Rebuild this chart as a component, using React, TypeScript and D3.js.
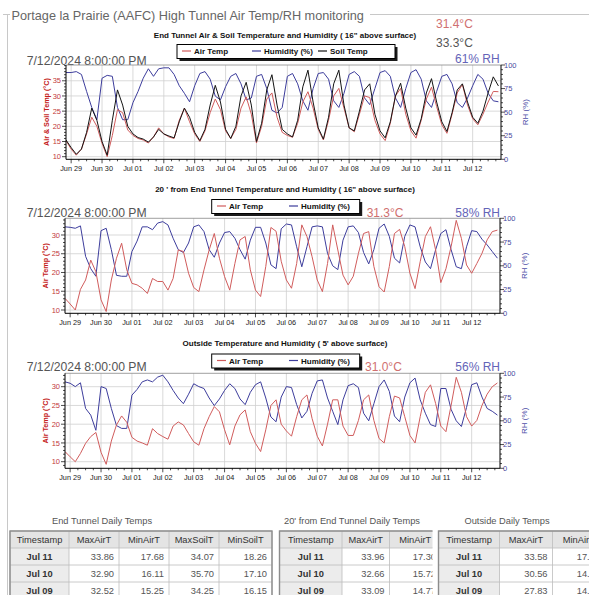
import React from 'react';
import * as d3 from 'd3';

// ---------- time base (4-hourly samples, Jun 28 20:00 -> Jul 12 20:00) ----------
const START = Date.UTC(2024, 5, 28, 20);
const DOMAIN_END = Date.UTC(2024, 6, 12, 22);
const STEP_H = 4;

// ---------- End Tunnel (16" above surface) ----------
const endAir = [
  15.3, 12.5, 10.5, 12.5, 17.5, 23, 20,
  14.4, 10, 17, 25.5, 24.5, 18.8,
  17, 16, 15.5, 14.5, 16.5, 19.5,
  17.5, 16.5, 16, 22, 26, 21.5,
  17.5, 15, 18.5, 24.5, 29, 25.5,
  18.5, 16, 19, 26, 29.7, 24,
  14.5, 20, 29, 31, 23, 18,
  17, 16.4, 21, 28, 31.4, 26,
  19, 15.5, 22, 30, 32.5, 26,
  19.5, 18.2, 24, 30, 29.5, 22,
  17.5, 15.3, 21, 30, 32.5, 24,
  18.5, 16.1, 22, 29, 32.9, 26.5,
  20.5, 17.7, 24, 31, 33.8, 27,
  22.5, 20.5, 24, 28, 31.5, 31.4,
];
const endSoil = [
  15.5, 13, 10.8, 12.5, 18, 26, 22,
  15, 10.5, 22, 32, 27, 20,
  17.5, 16.3, 15.8, 14.8, 16.5, 19,
  17.5, 16.8, 16.2, 21.5, 26, 23,
  18, 15.3, 19, 27, 33.5, 28,
  19, 16, 20, 30, 34.5, 27,
  15, 21, 32, 37, 27, 19,
  17.5, 16.5, 22, 33, 38.5, 28,
  19.5, 15.8, 23, 34, 38.5, 27,
  19.5, 18.5, 25, 32, 34, 24,
  18.5, 16.2, 21.5, 30, 34.2, 26,
  19.5, 17.1, 22.5, 31, 35.7, 28,
  21.5, 18.3, 24.5, 32, 34, 28,
  23, 21, 25, 31, 36.3, 33.3,
];
const endRH = [
  92, 92, 93, 90, 72, 55, 42,
  86, 89, 88, 55, 42, 42,
  60, 72, 86, 96, 88, 96,
  97, 97, 90, 78, 70, 61,
  78, 91, 93, 85, 67, 63,
  77, 88, 91, 80, 63, 65,
  88, 90, 75, 52, 49, 55,
  88, 91, 80, 62, 52, 75,
  91, 92, 85, 62, 55, 70,
  90, 93, 88, 65, 58, 75,
  92, 94, 88, 65, 55, 75,
  92, 95, 85, 62, 55, 72,
  88, 90, 80, 60, 55, 65,
  78, 90, 85, 70, 62, 61,
];

// ---------- 20' from End Tunnel ----------
const midAir = [
  13.1, 11.6, 10, 15.5, 18, 23.3, 20.2,
  12.7, 9.6, 18, 23.8, 27.8, 20.7,
  17.1, 16.7, 15.8, 14.4, 18.4, 17.6,
  17.6, 15.3, 18.4, 26, 25.6, 19.8,
  16, 14.9, 20.7, 26, 30.4, 23.8,
  18.9, 15.3, 22.4, 28.7, 29.6, 20.7,
  15.3, 13.6, 21.6, 32, 31, 23,
  18, 15.8, 22.4, 32.7, 29.6, 24.2,
  18, 14.9, 22.4, 32.7, 26, 19.3,
  16.7, 19, 25.1, 30.4, 30.9, 21.6,
  16.2, 14.8, 21.6, 30.4, 31.5, 26.9,
  19.8, 15.7, 22.9, 29.6, 32.2, 26,
  17.3, 21, 26.9, 33.9, 29.1, 22,
  19.8, 22.4, 25.1, 28.7, 30.9, 31.3,
];
const midRH = [
  91, 90.5, 89.5, 92, 60, 47, 39,
  87, 89.5, 67, 40, 39, 39,
  65, 76, 91, 91, 88, 95,
  96.5, 93, 79, 67, 64, 74,
  91, 93, 86, 67, 59, 74,
  85, 86, 79, 67, 57, 77,
  90.5, 90.5, 74, 51, 47, 89,
  94, 93, 70, 49, 70, 91,
  92, 91, 63, 50, 46, 77,
  91, 92, 85, 64, 52, 67,
  89.5, 94, 81, 58, 53, 81,
  93, 91, 70, 54, 47, 67,
  84, 88, 67, 49, 47, 70,
  87, 86, 78, 72, 65, 58,
];

// ---------- Outside (5' above surface) ----------
const outAir = [
  12.7, 11.3, 10, 12.2, 14.9, 16.7, 17.8,
  12.5, 9.3, 15.5, 19.8, 22.2, 20.5,
  16.5, 15.5, 15, 14.4, 18.8, 17.5,
  16.7, 16, 19.5, 20.6, 19.8, 17.5,
  15.3, 14.4, 18.8, 22, 24.7, 23.3,
  18.5, 14.5, 19.5, 22.5, 23.8, 18,
  14.9, 12.7, 18.5, 25, 26.5, 20,
  18.2, 16.8, 22, 26.5, 27.8, 21.5,
  16.8, 14.2, 20, 26.5, 26.5, 19.5,
  17, 17, 21, 26.5, 27.8, 21,
  16.2, 15, 22, 27.5, 27, 22,
  17, 15, 22, 28.5, 30.5, 25.5,
  19.5, 18, 25, 32.5, 28.5, 22,
  19.5, 21, 25, 28, 30, 31,
];
const outRH = [
  91, 89.5, 86, 90, 63, 56, 40,
  86, 84, 63, 45, 42, 42,
  77, 83, 91, 93, 91, 96,
  98, 91, 82, 74, 68, 78,
  89, 86, 84, 74, 66, 73,
  82, 89, 84, 73, 67, 80,
  88, 91, 74, 54, 49, 75,
  86, 85, 67, 53, 60, 79,
  92, 93, 74, 60, 46, 72,
  87, 89, 85, 58, 50, 68,
  86, 93, 81, 55, 49, 75,
  90, 95, 72, 58, 46, 44,
  84, 84, 62, 50, 44, 64,
  88, 90, 75, 63, 60, 56,
];

// ---------- tick values ----------
const rhTicks = [0, 25, 50, 75, 100];
const endTempTicks = [10, 15, 20, 25, 30, 35];
const tempTicks = [10, 15, 20, 25, 30];

// ---------- daily tables ----------
const tableDays = ['Jul 11', 'Jul 10', 'Jul 09'];
const endMaxAir = [33.86, 32.9, 32.52];
const endMinAir = [17.68, 16.11, 15.25];
const endMaxSoil = [34.07, 35.7, 34.25];
const endMinSoil = [18.26, 17.1, 16.15];
const midMaxAir = [33.96, 32.66, 33.09];
const midMinAir = [17.3, 15.72, 14.77];
const outMaxAir = [33.58, 30.56, 27.83];
const outMinAir = [17.75, 14.95, 14.34];

const FONT = 'Liberation Sans, Arial, Helvetica, sans-serif';
const RED = '#d05c5c';
const BLUE = '#3d3d9c';
const SOIL = '#141414';

const sampleTimes = d3.range(endAir.length).map((i) => new Date(START + i * STEP_H * 3600 * 1000));

type LineDef = { values: number[]; color: string; axis: 't' | 'rh' };

function Plot(props: {
  id: string;
  x0: number; x1: number; y0: number; y1: number;
  tDomain: [number, number]; tTicks: number[];
  lines: LineDef[]; leftTitle: string;
}) {
  const { id, x0, x1, y0, y1, tDomain, tTicks, lines, leftTitle } = props;
  const x = d3.scaleUtc().domain([new Date(START), new Date(DOMAIN_END)]).range([x0, x1]);
  const yT = d3.scaleLinear().domain(tDomain).range([y1, y0]);
  const yR = d3.scaleLinear().domain([0, 100]).range([y1, y0]);
  const days = d3.utcDay.range(new Date(START), new Date(DOMAIN_END));
  const sixH = d3.utcHour.every(6)!.range(new Date(START), new Date(DOMAIN_END));
  const minorT = d3.range(Math.ceil(tDomain[0]), Math.floor(tDomain[1]) + 1);
  const minorR = d3.range(0, 101, 5);
  const fmt = d3.utcFormat('%b %d');
  return (
    <g>
      <defs>
        <clipPath id={id}>
          <rect x={x0} y={y0} width={x1 - x0} height={y1 - y0} />
        </clipPath>
      </defs>
      <rect x={x0} y={y0} width={x1 - x0} height={y1 - y0} fill="#fff" />
      {tTicks.map((t) => (
        <line key={'gh' + t} x1={x0} x2={x1} y1={yT(t)} y2={yT(t)} stroke="#cfcfcf" strokeWidth={0.8} />
      ))}
      {days.map((d) => (
        <line key={'gv' + d.getTime()} x1={x(d)} x2={x(d)} y1={y0} y2={y1} stroke="#cfcfcf" strokeWidth={0.8} />
      ))}
      <g clipPath={`url(#${id})`}>
        {lines.map((l, k) => {
          const sc = l.axis === 't' ? yT : yR;
          const gen = d3
            .line<number>()
            .x((_, i) => x(sampleTimes[i]))
            .y((v) => sc(v));
          return <path key={k} d={gen(l.values) || ''} fill="none" stroke={l.color} strokeWidth={1} strokeLinejoin="round" />;
        })}
      </g>
      <line x1={x0} x2={x1} y1={y0} y2={y0} stroke="#888" strokeWidth={0.8} />
      <line x1={x0} x2={x0} y1={y0} y2={y1} stroke="#000" strokeWidth={1} />
      <line x1={x1} x2={x1} y1={y0} y2={y1} stroke="#000" strokeWidth={1} />
      <line x1={x0} x2={x1} y1={y1} y2={y1} stroke="#000" strokeWidth={1} />
      {minorT.map((t) => (
        <line key={'mt' + t} x1={x0 - (tTicks.includes(t) ? 4 : 2)} x2={x0} y1={yT(t)} y2={yT(t)} stroke="#000" strokeWidth={0.7} />
      ))}
      {minorR.map((r) => (
        <line key={'mr' + r} x1={x1} x2={x1 + (rhTicks.includes(r) ? 4 : 2)} y1={yR(r)} y2={yR(r)} stroke="#000" strokeWidth={0.7} />
      ))}
      {sixH.map((d) => (
        <line key={'mx' + d.getTime()} x1={x(d)} x2={x(d)} y1={y1} y2={y1 + (d.getUTCHours() === 0 ? 4 : 2)} stroke="#000" strokeWidth={0.7} />
      ))}
      {tTicks.map((t) => (
        <text key={'lt' + t} x={x0 - 5} y={yT(t) + 2.6} textAnchor="end" fontSize={7.5} fill="#c23a3a" fontFamily={FONT}>
          {t}
        </text>
      ))}
      {rhTicks.map((r) => (
        <text key={'lr' + r} x={x1 + 3} y={yR(r) + 2.6} fontSize={7.5} fill="#4a4aa0" fontFamily={FONT}>
          {r}
        </text>
      ))}
      {days.map((d) => (
        <text key={'lx' + d.getTime()} x={x(d)} y={y1 + 12} textAnchor="middle" fontSize={7.3} fill="#222" fontFamily={FONT}>
          {fmt(d)}
        </text>
      ))}
      <text
        transform={`translate(${x0 - 17},${(y0 + y1) / 2}) rotate(-90)`}
        textAnchor="middle"
        fontSize={7.2}
        fontWeight="bold"
        fill="#c42020"
        fontFamily={FONT}
      >
        {leftTitle}
      </text>
      <text
        transform={`translate(${x1 + 27},${(y0 + y1) / 2}) rotate(-90)`}
        textAnchor="middle"
        fontSize={8}
        fill="#5050a8"
        fontFamily={FONT}
      >
        RH (%)
      </text>
    </g>
  );
}

function Legend(props: { x: number; y: number; w: number; items: { label: string; color: string; at: number }[] }) {
  const { x, y, w, items } = props;
  const h = 14;
  return (
    <g>
      <rect x={x + 2.5} y={y + 2.5} width={w} height={h} fill="#1a1a1a" />
      <rect x={x} y={y} width={w} height={h} fill="#fff" stroke="#000" strokeWidth={1} />
      {items.map((it) => (
        <g key={it.label}>
          <line x1={it.at} x2={it.at + 9} y1={y + 6.5} y2={y + 6.5} stroke={it.color} strokeWidth={1.2} />
          <text x={it.at + 12} y={y + 9.6} fontSize={8} fontWeight="bold" fill="#111" fontFamily={FONT}>
            {it.label}
          </text>
        </g>
      ))}
    </g>
  );
}

function Table(props: {
  x: number; y: number; bounds: number[]; clipRight: number; id: string;
  headers: string[]; columns: string[][];
}) {
  const { x, y, bounds, clipRight, id, headers, columns } = props;
  const rh = 17;
  const nRows = columns[0].length;
  const right = bounds[bounds.length - 1];
  return (
    <g>
      <defs>
        <clipPath id={id}>
          <rect x={x - 2} y={y - 2} width={clipRight - x + 2} height={rh * (nRows + 1) + 4} />
        </clipPath>
      </defs>
      <g clipPath={`url(#${id})`}>
        <rect x={x} y={y} width={right - x} height={rh} fill="#e4e4e4" />
        <rect x={bounds[0]} y={y + rh} width={bounds[1] - bounds[0]} height={rh * nRows} fill="#ececec" />
        {d3.range(nRows + 1).map((r) => (
          <line key={'r' + r} x1={x} x2={right} y1={y + rh * r} y2={y + rh * r} stroke="#bdbdbd" strokeWidth={0.8} />
        ))}
        {bounds.map((b, i) => (
          <line key={'c' + i} x1={b} x2={b} y1={y} y2={y + rh * (nRows + 1)} stroke="#bdbdbd" strokeWidth={0.8} />
        ))}
        <rect x={x} y={y} width={right - x} height={rh * (nRows + 1)} fill="none" stroke="#8c8c8c" strokeWidth={1.4} />
        {headers.map((h, i) => (
          <text key={'h' + i} x={(bounds[i] + bounds[i + 1]) / 2} y={y + 11.8} textAnchor="middle" fontSize={9.3} fill="#333" fontFamily={FONT}>
            {h}
          </text>
        ))}
        {columns.map((col, ci) =>
          col.map((v, ri) => (
            <text
              key={ci + '-' + ri}
              x={ci === 0 ? (bounds[0] + bounds[1]) / 2 : bounds[ci + 1] - 5}
              y={y + rh * (ri + 1) + 11.8}
              textAnchor={ci === 0 ? 'middle' : 'end'}
              fontSize={9.3}
              fontWeight={ci === 0 ? 'bold' : 'normal'}
              fill={ci === 0 ? '#333' : '#555'}
              fontFamily={FONT}
            >
              {v}
            </text>
          ))
        )}
      </g>
    </g>
  );
}

const f2 = (a: number[]) => a.map((v) => v.toFixed(2));

export default function App() {
  return (
    <svg width={589} height={595} style={{ position: 'absolute', left: 0, top: 0, background: '#fff' }} fontFamily={FONT}>
      <rect x={0} y={0} width={589} height={595} fill="#fff" />
      {/* group box */}
      <path d="M3,14.5 H10 M370,14.5 H589 M7.5,14.5 V595" stroke="#c8c8c8" strokeWidth={1} fill="none" />
      <text x={11.5} y={19.5} fontSize={12.7} fill="#666">
        Portage la Prairie (AAFC) High Tunnel Air Temp/RH monitoring
      </text>

      {/* ---------- chart 1 ---------- */}
      <text x={285} y={37.5} textAnchor="middle" fontSize={8} fontWeight="bold" fill="#111">
        End Tunnel Air &amp; Soil Temperature and Humidity ( 16" above surface)
      </text>
      <text x={26.7} y={64.5} fontSize={12.2} fill="#555">7/12/2024 8:00:00 PM</text>
      <text x={436} y={28} fontSize={12} fill="#d07070">31.4°C</text>
      <text x={436} y={47} fontSize={12} fill="#555">33.3°C</text>
      <text x={455} y={63} fontSize={12} fill="#6464b8">61% RH</text>
      <Legend
        x={177}
        y={44.5}
        w={218}
        items={[
          { label: 'Air Temp', color: RED, at: 182 },
          { label: 'Humidity (%)', color: BLUE, at: 252 },
          { label: 'Soil Temp', color: SOIL, at: 318 },
        ]}
      />
      <Plot
        id="p1"
        x0={66} x1={501} y0={65} y1={159.3}
        tDomain={[9.14, 40.2]} tTicks={endTempTicks}
        leftTitle="Air & Soil Temp (°C)"
        lines={[
          { values: endRH, color: BLUE, axis: 'rh' },
          { values: endAir, color: RED, axis: 't' },
          { values: endSoil, color: SOIL, axis: 't' },
        ]}
      />

      {/* ---------- chart 2 ---------- */}
      <text x={285} y={191.5} textAnchor="middle" fontSize={8} fontWeight="bold" fill="#111">
        20 ' from End Tunnel Temperature and Humidity ( 16" above surface)
      </text>
      <text x={26.7} y={217} fontSize={12.2} fill="#555">7/12/2024 8:00:00 PM</text>
      <text x={366.7} y={216.7} fontSize={12} fill="#d07070">31.3°C</text>
      <text x={500} y={216.7} textAnchor="end" fontSize={12} fill="#6464b8">58% RH</text>
      <Legend
        x={211.7}
        y={199.5}
        w={148}
        items={[
          { label: 'Air Temp', color: RED, at: 217 },
          { label: 'Humidity (%)', color: BLUE, at: 289 },
        ]}
      />
      <Plot
        id="p2"
        x0={65} x1={500} y0={218.3} y1={313.3}
        tDomain={[9.12, 34.45]} tTicks={tempTicks}
        leftTitle="Air Temp (°C)"
        lines={[
          { values: midRH, color: BLUE, axis: 'rh' },
          { values: midAir, color: RED, axis: 't' },
        ]}
      />

      {/* ---------- chart 3 ---------- */}
      <text x={285} y={346} textAnchor="middle" fontSize={8} fontWeight="bold" fill="#111">
        Outside Temperature and Humidity ( 5' above surface)
      </text>
      <text x={26.7} y={370.5} fontSize={12.2} fill="#555">7/12/2024 8:00:00 PM</text>
      <text x={365} y={371} fontSize={12} fill="#d07070">31.0°C</text>
      <text x={500} y={371} textAnchor="end" fontSize={12} fill="#6464b8">56% RH</text>
      <Legend
        x={211.7}
        y={354}
        w={148}
        items={[
          { label: 'Air Temp', color: RED, at: 217 },
          { label: 'Humidity (%)', color: BLUE, at: 289 },
        ]}
      />
      <Plot
        id="p3"
        x0={65} x1={500} y0={373.3} y1={468.3}
        tDomain={[8.24, 33.57]} tTicks={tempTicks}
        leftTitle="Air Temp (°C)"
        lines={[
          { values: outRH, color: BLUE, axis: 'rh' },
          { values: outAir, color: RED, axis: 't' },
        ]}
      />

      {/* ---------- tables ---------- */}
      <text x={102} y={523.5} textAnchor="middle" fontSize={9.3} fill="#555">End Tunnel Daily Temps</text>
      <text x={352} y={523.5} textAnchor="middle" fontSize={9.3} fill="#555">20' from End Tunnel Daily Temps</text>
      <text x={507} y={523.5} textAnchor="middle" fontSize={9.3} fill="#555">Outside Daily Temps</text>
      <Table
        id="t1" x={10} y={531} bounds={[10, 69, 119, 169, 219, 272]} clipRight={274}
        headers={['Timestamp', 'MaxAirT', 'MinAirT', 'MaxSoilT', 'MinSoilT']}
        columns={[tableDays, f2(endMaxAir), f2(endMinAir), f2(endMaxSoil), f2(endMinSoil)]}
      />
      <Table
        id="t2" x={279.5} y={531} bounds={[279.5, 342, 389.5, 441]} clipRight={432.5}
        headers={['Timestamp', 'MaxAirT', 'MinAirT']}
        columns={[tableDays, f2(midMaxAir), f2(midMinAir)]}
      />
      <Table
        id="t3" x={438.5} y={531} bounds={[438.5, 499.5, 552.5, 605]} clipRight={589}
        headers={['Timestamp', 'MaxAirT', 'MinAirT']}
        columns={[tableDays, f2(outMaxAir), f2(outMinAir)]}
      />
    </svg>
  );
}
